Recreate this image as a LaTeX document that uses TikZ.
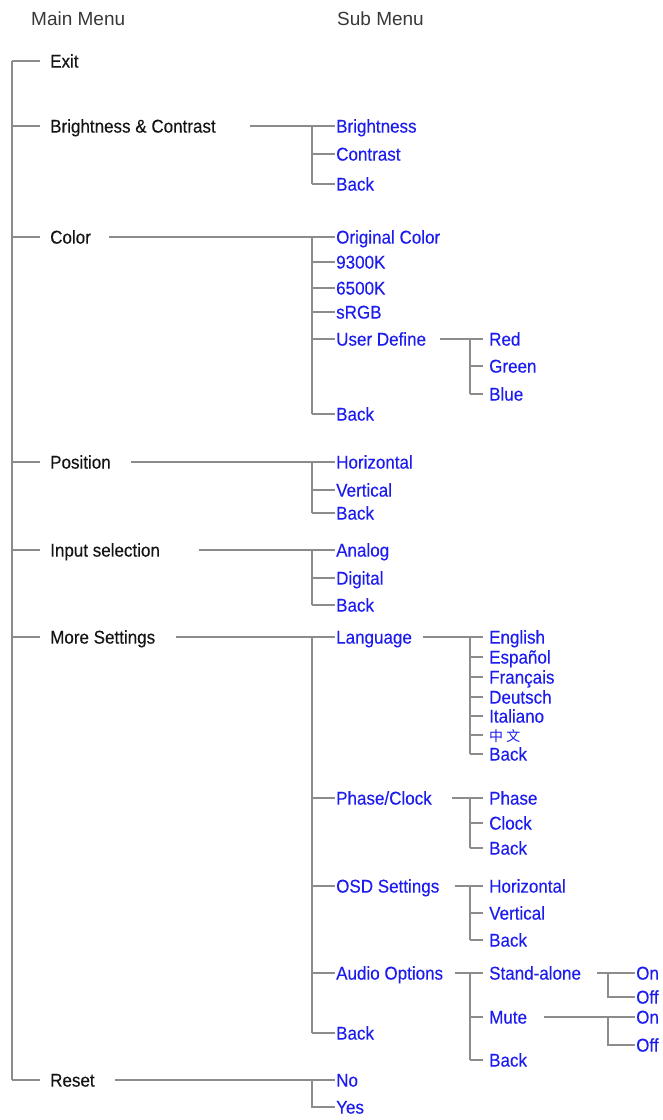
\documentclass[tikz,border=0pt]{standalone}
\usepackage{fontspec}
\setmainfont{Liberation Sans}
\newfontfamily\itemfont{Liberation Sans}[FakeStretch=0.92,FakeBold=0.25]
\newfontfamily\cjkfont{Noto Sans CJK SC}
\definecolor{menublue}{RGB}{28,28,238}
\begin{document}
\begin{tikzpicture}[x=1pt,y=-1pt,
  every node/.style={font=\itemfont\fontsize{18.5}{22}\selectfont,anchor=west,inner xsep=1pt,inner ysep=0pt,text height=13.2pt,text depth=0pt},
  main/.style={text=black!92},
  sub/.style={text=menublue},
  head/.style={font=\fontsize{19}{22}\selectfont,text=black!78},
  link/.style={draw=black!45,line width=1.2pt}]
\useasboundingbox (0,0) rectangle (663,1120);
% headings
\node[head] (hmain) at (30,19) {Main Menu};
\node[head] (hsub) at (336,19) {Sub Menu};
% main menu
\node[main] (exit) at (49,61) {Exit};
\node[main] (bc) at (49,126) {Brightness \& Contrast};
\node[main] (color) at (49,237) {Color};
\node[main] (pos) at (49,462) {Position};
\node[main] (input) at (49,550) {Input selection};
\node[main] (more) at (49,637) {More Settings};
\node[main] (reset) at (49,1080) {Reset};
\coordinate (trunk) at (12,61);
\coordinate (bus) at (312,0); \coordinate (busB) at (470,0); \coordinate (busC) at (608,0);
\draw[link] (trunk) -- (trunk |- reset.west);
\foreach \n in {exit,bc,color,pos,input,more,reset} \draw[link] (trunk |- \n.west) -- ([xshift=-9pt]\n.west);
% brightness & contrast
\node[sub] (bright) at (335,126) {Brightness};
\node[sub] (contr) at (335,154) {Contrast};
\node[sub] (bcback) at (335,184) {Back};
\draw[link] ([xshift=33pt]bc.east) -- (bright.west);
\draw[link] (bus |- bright.west) -- (bus |- bcback.west);
\foreach \n in {contr,bcback} \draw[link] (bus |- \n.west) -- (\n.west);
% color
\node[sub] (ocol) at (335,237) {Original Color};
\node[sub] (k93) at (335,262) {9300K};
\node[sub] (k65) at (335,288) {6500K};
\node[sub] (srgb) at (335,312) {sRGB};
\node[sub] (udef) at (335,339) {User Define};
\node[sub] (cback) at (335,414) {Back};
\draw[link] ([xshift=17pt]color.east) -- (ocol.west);
\draw[link] (bus |- ocol.west) -- (bus |- cback.west);
\foreach \n in {k93,k65,srgb,udef,cback} \draw[link] (bus |- \n.west) -- (\n.west);
\node[sub] (red) at (488,339) {Red};
\node[sub] (green) at (488,366) {Green};
\node[sub] (blue) at (488,394) {Blue};
\draw[link] ([xshift=13pt]udef.east) -- ([xshift=-5pt]red.west);
\draw[link] (busB |- red.west) -- (busB |- blue.west);
\foreach \n in {green,blue} \draw[link] (busB |- \n.west) -- ([xshift=-5pt]\n.west);
% position
\node[sub] (phor) at (335,462) {Horizontal};
\node[sub] (pver) at (335,490) {Vertical};
\node[sub] (pback) at (335,513) {Back};
\draw[link] ([xshift=19pt]pos.east) -- (phor.west);
\draw[link] (bus |- phor.west) -- (bus |- pback.west);
\foreach \n in {pver,pback} \draw[link] (bus |- \n.west) -- (\n.west);
% input selection
\node[sub] (analog) at (335,550) {Analog};
\node[sub] (digital) at (335,578) {Digital};
\node[sub] (iback) at (335,605) {Back};
\draw[link] ([xshift=38pt]input.east) -- (analog.west);
\draw[link] (bus |- analog.west) -- (bus |- iback.west);
\foreach \n in {digital,iback} \draw[link] (bus |- \n.west) -- (\n.west);
% more settings
\node[sub] (lang) at (335,637) {Language};
\node[sub] (phclk) at (335,798) {Phase/Clock};
\node[sub] (osd) at (335,886) {OSD Settings};
\node[sub] (audio) at (335,973) {Audio Options};
\node[sub] (mback) at (335,1033) {Back};
\draw[link] ([xshift=20pt]more.east) -- (lang.west);
\draw[link] (bus |- lang.west) -- (bus |- mback.west);
\foreach \n in {phclk,osd,audio,mback} \draw[link] (bus |- \n.west) -- (\n.west);
% language
\node[sub] (eng) at (488,637) {English};
\node[sub] (esp) at (488,657) {Español};
\node[sub] (fra) at (488,677) {Français};
\node[sub] (deu) at (488,697) {Deutsch};
\node[sub] (ita) at (488,716) {Italiano};
\node[sub] (chn) at (488,735) {\cjkfont\fontsize{14}{16}\selectfont 中 文};
\node[sub] (lback) at (488,754) {Back};
\draw[link] ([xshift=10pt]lang.east) -- ([xshift=-5pt]eng.west);
\draw[link] (busB |- eng.west) -- (busB |- lback.west);
\foreach \n in {esp,fra,deu,ita,chn,lback} \draw[link] (busB |- \n.west) -- ([xshift=-5pt]\n.west);
% phase/clock
\node[sub] (phase) at (488,798) {Phase};
\node[sub] (clock) at (488,823) {Clock};
\node[sub] (pcback) at (488,848) {Back};
\draw[link] ([xshift=19pt]phclk.east) -- ([xshift=-5pt]phase.west);
\draw[link] (busB |- phase.west) -- (busB |- pcback.west);
\foreach \n in {clock,pcback} \draw[link] (busB |- \n.west) -- ([xshift=-5pt]\n.west);
% osd settings
\node[sub] (ohor) at (488,886) {Horizontal};
\node[sub] (over) at (488,913) {Vertical};
\node[sub] (oback) at (488,940) {Back};
\draw[link] ([xshift=14pt]osd.east) -- ([xshift=-5pt]ohor.west);
\draw[link] (busB |- ohor.west) -- (busB |- oback.west);
\foreach \n in {over,oback} \draw[link] (busB |- \n.west) -- ([xshift=-5pt]\n.west);
% audio options
\node[sub] (stand) at (488,973) {Stand-alone};
\node[sub] (mute) at (488,1017) {Mute};
\node[sub] (aback) at (488,1060) {Back};
\draw[link] ([xshift=11pt]audio.east) -- ([xshift=-5pt]stand.west);
\draw[link] (busB |- stand.west) -- (busB |- aback.west);
\foreach \n in {mute,aback} \draw[link] (busB |- \n.west) -- ([xshift=-5pt]\n.west);
\node[sub] (son) at (635,973) {On};
\node[sub] (soff) at (635,997) {Off};
\node[sub] (mon) at (635,1017) {On};
\node[sub] (moff) at (635,1045) {Off};
\draw[link] ([xshift=15pt]stand.east) -- (son.west);
\draw[link] (busC |- son.west) -- (busC |- soff.west) -- (soff.west);
\draw[link] ([xshift=16pt]mute.east) -- (mon.west);
\draw[link] (busC |- mon.west) -- (busC |- moff.west) -- (moff.west);
% reset
\node[sub] (no) at (335,1080) {No};
\node[sub] (yes) at (335,1107) {Yes};
\draw[link] ([xshift=19pt]reset.east) -- (no.west);
\draw[link] (bus |- no.west) -- (bus |- yes.west) -- (yes.west);
\end{tikzpicture}
\end{document}
